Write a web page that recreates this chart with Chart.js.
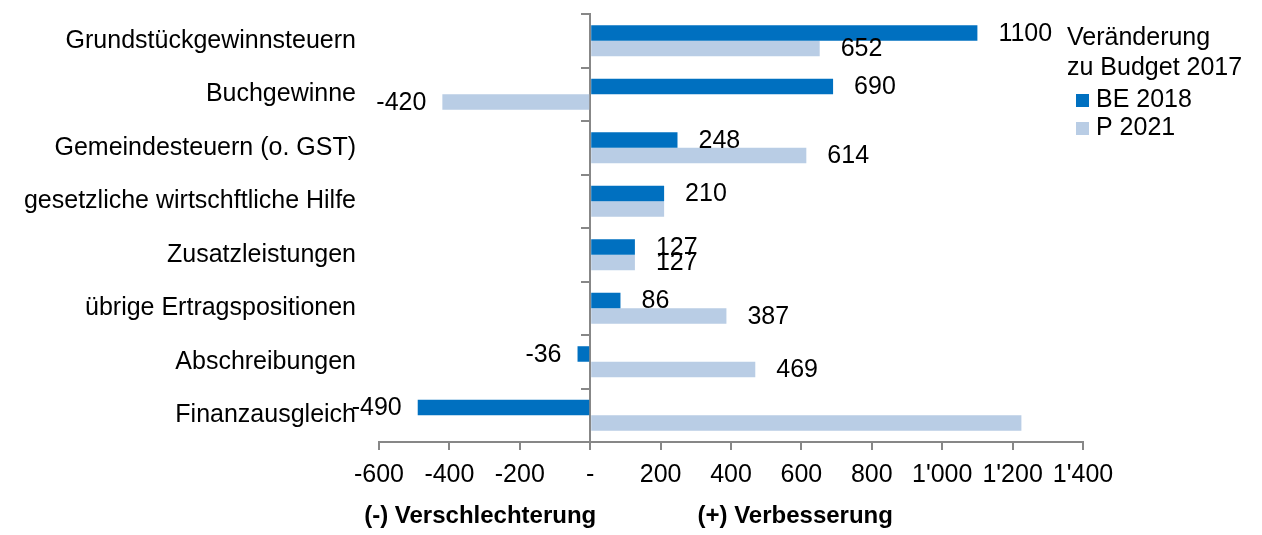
<!DOCTYPE html>
<html>
<head>
<meta charset="utf-8">
<script src="https://cdn.jsdelivr.net/npm/chart.js@4"></script>
<style>
  html, body { margin: 0; padding: 0; background: #fff; }
  #wrap { width: 1262px; height: 535px; }
</style>
</head>
<body>
<div id="wrap"><canvas id="bar_Chart"></canvas></div>
<script>
// daten
const categories = [
  'Grundstückgewinnsteuern',
  'Buchgewinne',
  'Gemeindesteuern (o. GST)',
  'gesetzliche wirtschftliche Hilfe',
  'Zusatzleistungen',
  'übrige Ertragspositionen',
  'Abschreibungen',
  'Finanzausgleich'
];
const seriesNames = ['BE 2018', 'P 2021'];
const be2018 = [1100, 690, 248, 210, 127, 86, -36, -490];
const p2021 = [652, -420, 614, 210, 127, 387, 469, 1225];
// welche werte keine beschriftung haben (index)
const hiddenLabels = [[], [3, 7]];
const xTickLabels = ['-600', '-400', '-200', '-', '200', '400', '600', '800', "1'000", "1'200", "1'400"];
const legendTitle = ['Veränderung', 'zu Budget 2017'];
const axisNotes = ['(-) Verschlechterung', '(+) Verbesserung'];

const FONT = '"Liberation Sans", Arial, sans-serif';
Chart.defaults.font.family = FONT;
Chart.defaults.font.size = 25;
Chart.defaults.color = '#000';

const colors = ['#0070C0', '#B9CDE5'];
const axisGrey = '#878787';

// werte an den balken
const valueLabels = {
  id: 'valueLabels',
  afterDraw(chart) {
    const ctx = chart.ctx;
    ctx.save();
    ctx.font = '25px ' + FONT;
    ctx.fillStyle = '#000';
    ctx.textBaseline = 'middle';
    chart.data.datasets.forEach((ds, di) => {
      chart.getDatasetMeta(di).data.forEach((bar, i) => {
        if (hiddenLabels[di].includes(i)) return;
        const v = ds.data[i];
        if (v >= 0) {
          ctx.textAlign = 'left';
          ctx.fillText(String(v), bar.x + 21, bar.y + 1);
        } else {
          ctx.textAlign = 'right';
          ctx.fillText(String(v), bar.x - 16, bar.y + 1);
        }
      });
    });
    ctx.restore();
  }
};

// legende rechts mit zweizeiligem titel
const sideLegend = {
  id: 'sideLegend',
  afterDraw(chart) {
    const ctx = chart.ctx;
    const x0 = chart.chartArea.right - 16;
    ctx.save();
    ctx.font = '25px ' + FONT;
    ctx.fillStyle = '#000';
    ctx.textAlign = 'left';
    ctx.textBaseline = 'middle';
    ctx.fillText(legendTitle[0], x0, 38);
    ctx.fillText(legendTitle[1], x0, 68);
    chart.data.datasets.forEach((ds, i) => {
      const y = 100 + i * 28;
      ctx.fillStyle = ds.backgroundColor;
      ctx.fillRect(x0 + 9, y - 6, 13, 13);
      ctx.fillStyle = '#000';
      ctx.fillText(ds.label, x0 + 29, y);
    });
    ctx.restore();
  }
};

// texte unter der x-achse
const axisNotesPlugin = {
  id: 'axisNotes',
  afterDraw(chart) {
    const ctx = chart.ctx;
    const zero = chart.scales.x.getPixelForValue(0);
    ctx.save();
    ctx.font = 'bold 24px ' + FONT;
    ctx.fillStyle = '#000';
    ctx.textAlign = 'center';
    ctx.textBaseline = 'middle';
    ctx.fillText(axisNotes[0], zero - 110, 516);
    ctx.fillText(axisNotes[1], zero + 205, 516);
    ctx.restore();
  }
};

const data = {
  labels: categories,
  datasets: [
    { label: seriesNames[0], data: be2018, backgroundColor: colors[0], borderWidth: 0 },
    { label: seriesNames[1], data: p2021, backgroundColor: colors[1], borderWidth: 0 }
  ]
};

const config = {
  type: 'bar',
  data: data,
  options: {
    indexAxis: 'y',
    responsive: true,
    maintainAspectRatio: false,
    animation: false,
    categoryPercentage: 0.58,
    barPercentage: 1,
    layout: { padding: { left: 0, right: 179, top: 14, bottom: 35 } },
    plugins: {
      legend: { display: false },
      tooltip: { enabled: false }
    },
    scales: {
      x: {
        min: -600,
        max: 1400,
        ticks: {
          stepSize: 200,
          autoSkip: false,
          maxRotation: 0,
          padding: 10,
          callback: (v, i) => xTickLabels[i]
        },
        grid: { drawOnChartArea: false, drawTicks: true, tickLength: 8, color: axisGrey, lineWidth: 2 },
        border: { color: axisGrey, width: 2 }
      },
      y: {
        type: 'category',
        position: 'left',
        grid: { display: false, drawTicks: false },
        border: { display: false },
        ticks: { padding: 23 },
        afterFit: (scale) => {
          scale.width = 379;
          scale.paddingTop = 0;
          scale.paddingBottom = 0;
        }
      },
      y2: {
        type: 'category',
        axis: 'y',
        position: { x: 0 },
        offset: true,
        grid: { offset: true, drawOnChartArea: false, drawTicks: true, tickLength: 8, color: axisGrey, lineWidth: 2 },
        border: { color: axisGrey, width: 2 },
        ticks: { display: false }
      }
    }
  },
  plugins: [valueLabels, sideLegend, axisNotesPlugin]
};

const myChart = new Chart(document.getElementById('bar_Chart'), config);
</script>
</body>
</html>
